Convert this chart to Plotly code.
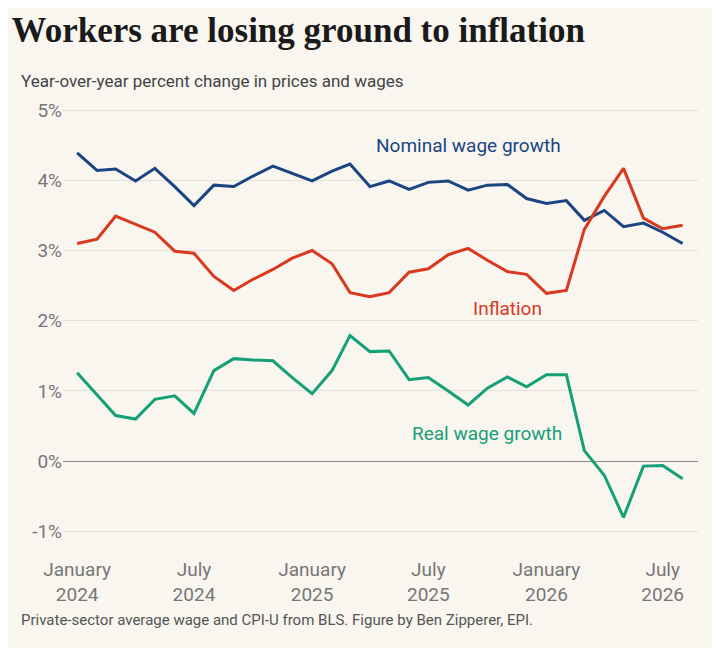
import pandas as pd
import plotly.graph_objects as go

months = pd.date_range("2024-01-01", "2026-08-01", freq="MS")

nominal = [4.39, 4.14, 4.16, 3.99, 4.17, 3.91, 3.64, 3.93, 3.91, 4.06, 4.20, 4.10,
           3.99, 4.13, 4.23, 3.91, 3.99, 3.87, 3.97, 3.99, 3.86, 3.93, 3.94, 3.74,
           3.67, 3.71, 3.43, 3.57, 3.34, 3.39, 3.26, 3.10]
inflation = [3.10, 3.16, 3.49, 3.37, 3.26, 2.99, 2.96, 2.63, 2.43, 2.59, 2.73, 2.89,
             3.00, 2.81, 2.40, 2.34, 2.40, 2.69, 2.74, 2.94, 3.03, 2.86, 2.70, 2.66,
             2.39, 2.43, 3.30, 3.77, 4.17, 3.46, 3.31, 3.36]
real = [1.26, 0.94, 0.65, 0.60, 0.88, 0.93, 0.68, 1.29, 1.46, 1.44, 1.43, 1.19,
        0.96, 1.29, 1.79, 1.56, 1.57, 1.16, 1.19, 1.00, 0.80, 1.04, 1.20, 1.06,
        1.23, 1.23, 0.15, -0.20, -0.80, -0.07, -0.06, -0.25]

tick_vals = ["2024-01-01", "2024-07-01", "2025-01-01", "2025-07-01", "2026-01-01", "2026-07-01"]
tick_text = ["January<br>2024", "July<br>2024", "January<br>2025", "July<br>2025",
             "January<br>2026", "July<br>2026"]
y_vals = [-1, 0, 1, 2, 3, 4, 5]
y_text = ["-1%", "0%", "1%", "2%", "3%", "4%", "5%"]

BLUE, RED, GREEN = "#1b4582", "#d9391f", "#16a078"
BG = "#f9f5ef"

fig = go.Figure()
for name, values, color in [("Nominal wage growth", nominal, BLUE),
                            ("Inflation", inflation, RED),
                            ("Real wage growth", real, GREEN)]:
    fig.add_trace(go.Scatter(x=months, y=values, mode="lines", name=name,
                             line={"color": color, "width": 3}))

labels = [("Nominal wage growth", "2025-09-01", 4.5, BLUE),
          ("Inflation", "2025-11-01", 2.18, RED),
          ("Real wage growth", "2025-10-01", 0.4, GREEN)]
for text, x, y, color in labels:
    fig.add_annotation(x=x, y=y, text=text, showarrow=False,
                       font={"color": color, "size": 19, "family": "Roboto"})

fig.update_layout(
    width=720, height=648,
    paper_bgcolor=BG, plot_bgcolor=BG,
    showlegend=False,
    font={"family": "Roboto", "color": "#777777", "size": 19},
    margin={"l": 55, "r": 30, "t": 95, "b": 100},
    title={"text": "<b>Workers are losing ground to inflation</b>",
           "x": 0.005, "xanchor": "left", "y": 0.985, "yanchor": "top",
           "font": {"family": "Liberation Serif", "size": 35, "color": "#1a1a1a"}},
    xaxis={"tickvals": tick_vals, "ticktext": tick_text, "showgrid": False,
           "range": ["2023-12-10", "2026-08-25"], "ticks": ""},
    yaxis={"tickvals": y_vals, "ticktext": y_text, "range": [-1.35, 5.1],
           "gridcolor": "#e5e0d9", "zeroline": True, "zerolinecolor": "#888888",
           "zerolinewidth": 1},
)
fig.add_annotation(xref="paper", yref="paper", x=-0.07, y=1.075, xanchor="left",
                   text="Year-over-year percent change in prices and wages", showarrow=False,
                   font={"size": 17, "color": "#444444"})
fig.add_annotation(xref="paper", yref="paper", x=-0.07, y=-0.165, xanchor="left",
                   text="Private-sector average wage and CPI-U from BLS. Figure by Ben Zipperer, EPI.",
                   showarrow=False, font={"size": 15, "color": "#555555"})

fig.write_html("out.html")
